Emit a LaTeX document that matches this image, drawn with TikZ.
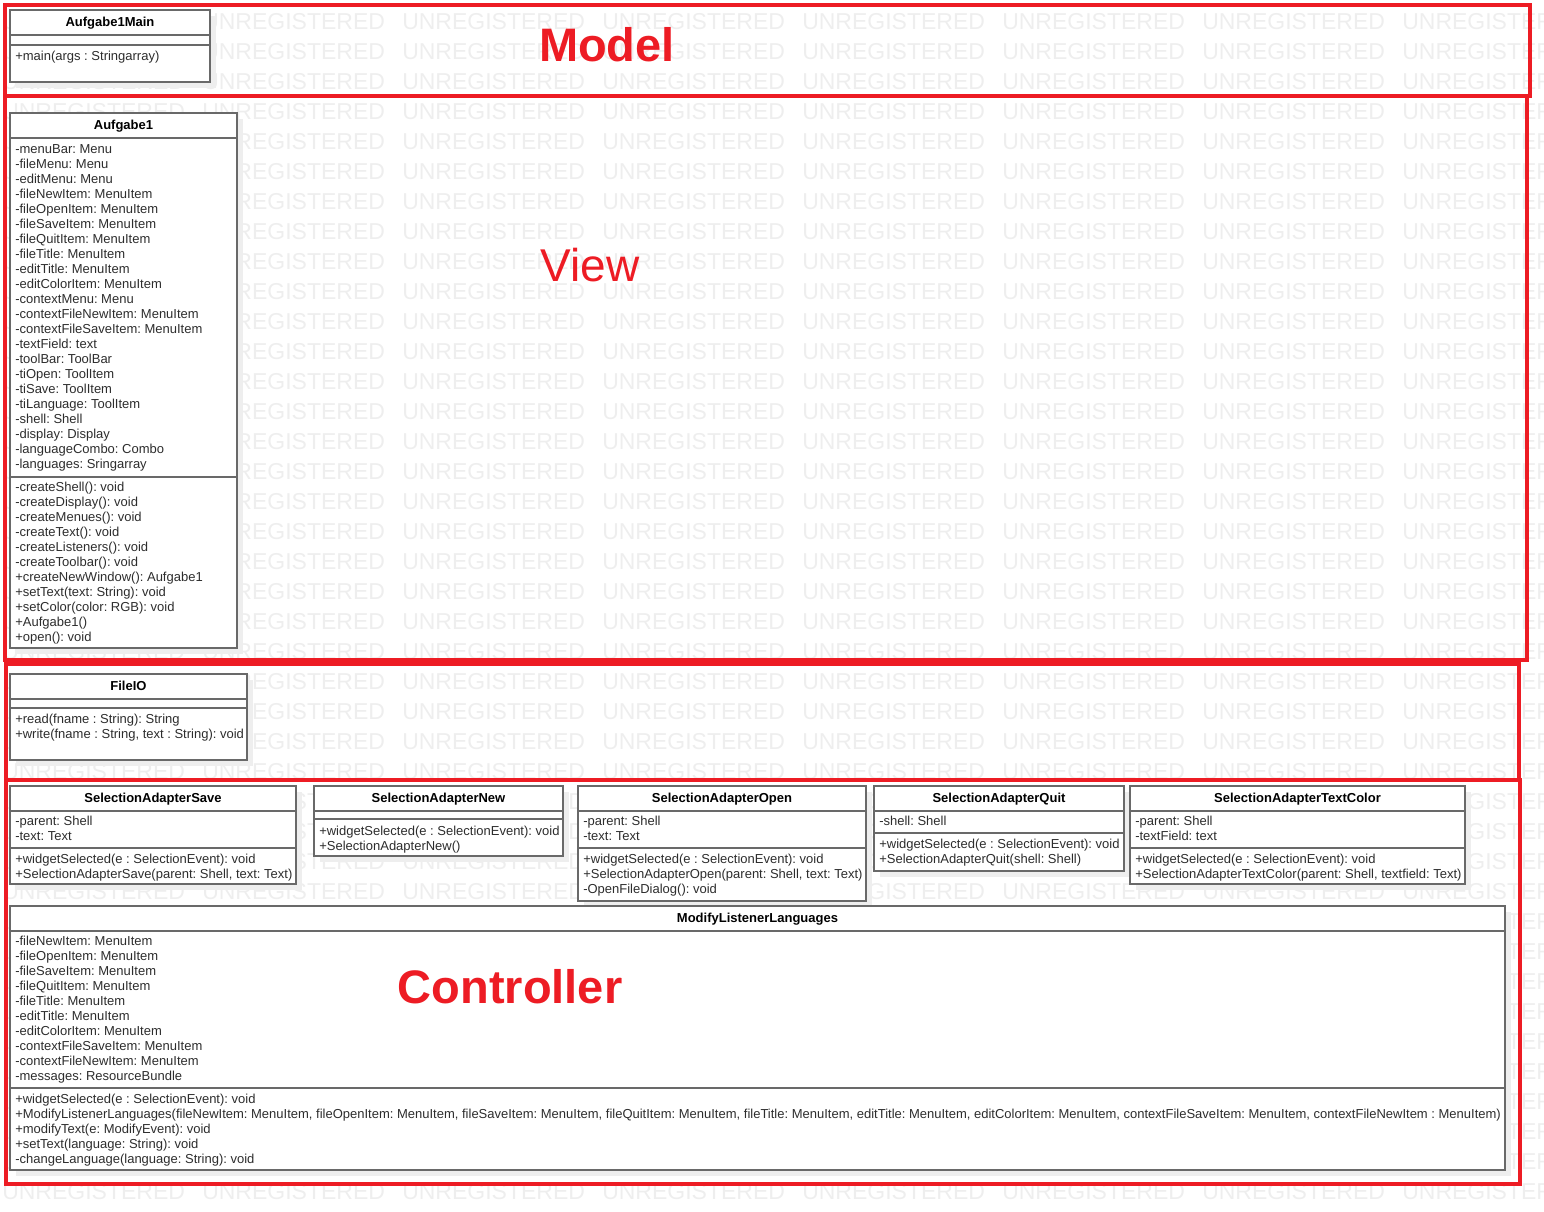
\documentclass[tikz,border=0pt]{standalone}
\usepackage{fontspec}
\setmainfont{Liberation Sans}
\frenchspacing
\definecolor{redc}{RGB}{237,28,36}
\definecolor{wmc}{RGB}{238,238,238}
\definecolor{linec}{RGB}{105,105,105}
\definecolor{shadc}{RGB}{238,238,238}
\definecolor{txtc}{RGB}{45,45,45}
\newcommand\umlbox[6]{%
  \fill[shadc] ({#2+6},{#3+6}) rectangle ({#4+6},{#5+6});
  \draw[boxline, fill=white] (#2,#3) rectangle (#4,#5);
  \node[umltitle] (#1) at ({(#2+#4)/2},{#3+13.5}) {#6};
  \draw[boxline] (#2,{#3+25}) -- (#4,{#3+25});
}
\newcommand\umlsep[3]{\draw[boxline] (#1,#3) -- (#2,#3);}
\newcommand\umllines[4]{%
  \foreach \tline [count=\k] in {#4} {%
    \node[umltext] (#1-\k) at ({#2},{#3+1.5+15*(\k-1)}) {\tline};
  }%
}
\begin{document}
\begin{tikzpicture}[x=0.75pt,y=-0.75pt,
  wm/.style={font=\fontsize{17.25}{18}\selectfont, text=wmc, anchor=west, inner sep=0},
  frame/.style={draw=redc, line width=3pt},
  boxline/.style={draw=linec, line width=1.1pt},
  umltitle/.style={font=\fontsize{9.75}{11}\selectfont\bfseries, text=black, inner sep=0, text height=7pt, text depth=2pt},
  umltext/.style={font=\fontsize{9.75}{11}\selectfont, text=txtc, anchor=west, inner sep=0, text height=7pt, text depth=2pt},
  biglabel/.style={text=redc, inner sep=0},
]
\useasboundingbox (0,0) rectangle (1544,1211);
% watermark
\begin{scope}
\clip (0,0) rectangle (1544,1211);
\foreach \r in {0,...,39} {
  \foreach \c in {0,...,7} {
    \node[wm] (wm-\r-\c) at ({2+200*\c},{22+30*\r}) {UNREGISTERED};
  }
}
\end{scope}
% package frames
\draw[frame] (5,5) rectangle (1530,96);
\draw[frame] (5,96) rectangle (1527,660);
\draw[frame] (6,664) rectangle (1519,780);
\draw[frame] (6,780) rectangle (1520,1184);
% Aufgabe1Main
\umlbox{a1main}{10}{10}{210}{82}{Aufgabe1Main}
\umlsep{10}{210}{45}
\umllines{a1mainM}{15}{56}{+main(args : Stringarray)}
% Aufgabe1
\umlbox{a1}{10}{113}{237}{648}{Aufgabe1}
\umlsep{10}{237}{477}
\umllines{a1A}{15}{149}{-menuBar: Menu,-fileMenu: Menu,-editMenu: Menu,-fileNewItem: MenuItem,-fileOpenItem: MenuItem,-fileSaveItem: MenuItem,-fileQuitItem: MenuItem,-fileTitle: MenuItem,-editTitle: MenuItem,-editColorItem: MenuItem,-contextMenu: Menu,-contextFileNewItem: MenuItem,-contextFileSaveItem: MenuItem,-textField: text,-toolBar: ToolBar,-tiOpen: ToolItem,-tiSave: ToolItem,-tiLanguage: ToolItem,-shell: Shell,-display: Display,-languageCombo: Combo,-languages: Sringarray}
\umllines{a1M}{15}{487}{-createShell(): void,-createDisplay(): void,-createMenues(): void,-createText(): void,-createListeners(): void,-createToolbar(): void,+createNewWindow(): Aufgabe1,+setText(text: String): void,+setColor(color: RGB): void,+Aufgabe1(),+open(): void}
% FileIO
\umlbox{fileio}{10}{674}{247}{760}{FileIO}
\umlsep{10}{247}{708}
\umllines{fileioM}{15}{719}{+read(fname : String): String,{+write(fname : String, text : String): void}}
% SelectionAdapterSave
\umlbox{sas}{10}{786}{296}{884}{SelectionAdapterSave}
\umlsep{10}{296}{848}
\umllines{sasA}{15}{821}{-parent: Shell,-text: Text}
\umllines{sasM}{15}{859}{+widgetSelected(e : SelectionEvent): void,{+SelectionAdapterSave(parent: Shell, text: Text)}}
% SelectionAdapterNew
\umlbox{san}{314}{786}{563}{856}{SelectionAdapterNew}
\umlsep{314}{563}{819}
\umllines{sanM}{319}{831}{+widgetSelected(e : SelectionEvent): void,+SelectionAdapterNew()}
% SelectionAdapterOpen
\umlbox{sao}{578}{786}{866}{901}{SelectionAdapterOpen}
\umlsep{578}{866}{848}
\umllines{saoA}{583}{821}{-parent: Shell,-text: Text}
\umllines{saoM}{583}{859}{+widgetSelected(e : SelectionEvent): void,{+SelectionAdapterOpen(parent: Shell, text: Text)},-OpenFileDialog(): void}
% SelectionAdapterQuit
\umlbox{saq}{874}{786}{1124}{871}{SelectionAdapterQuit}
\umlsep{874}{1124}{833}
\umllines{saqA}{879}{821}{-shell: Shell}
\umllines{saqM}{879}{844}{+widgetSelected(e : SelectionEvent): void,+SelectionAdapterQuit(shell: Shell)}
% SelectionAdapterTextColor
\umlbox{satc}{1130}{786}{1465}{884}{SelectionAdapterTextColor}
\umlsep{1130}{1465}{848}
\umllines{satcA}{1135}{821}{-parent: Shell,-textField: text}
\umllines{satcM}{1135}{859}{+widgetSelected(e : SelectionEvent): void,{+SelectionAdapterTextColor(parent: Shell, textfield: Text)}}
% ModifyListenerLanguages
\umlbox{mll}{10}{906}{1505}{1170}{ModifyListenerLanguages}
\umlsep{10}{1505}{1088}
\umllines{mllA}{15}{941}{-fileNewItem: MenuItem,-fileOpenItem: MenuItem,-fileSaveItem: MenuItem,-fileQuitItem: MenuItem,-fileTitle: MenuItem,-editTitle: MenuItem,-editColorItem: MenuItem,-contextFileSaveItem: MenuItem,-contextFileNewItem: MenuItem,-messages: ResourceBundle}
\umllines{mllM}{15}{1099}{+widgetSelected(e : SelectionEvent): void,{+ModifyListenerLanguages(fileNewItem: MenuItem, fileOpenItem: MenuItem, fileSaveItem: MenuItem, fileQuitItem: MenuItem, fileTitle: MenuItem, editTitle: MenuItem, editColorItem: MenuItem, contextFileSaveItem: MenuItem, contextFileNewItem : MenuItem)},+modifyText(e: ModifyEvent): void,+setText(language: String): void,-changeLanguage(language: String): void}
% big labels
\node[biglabel, font=\fontsize{35.25}{40}\selectfont\bfseries] (lmodel) at (607,45) {Model};
\node[biglabel, font=\fontsize{34.5}{40}\selectfont] (lview) at (590,265) {View};
\node[biglabel, font=\fontsize{35.25}{40}\selectfont\bfseries] (lctrl) at (510,987) {Controller};
\end{tikzpicture}
\end{document}
